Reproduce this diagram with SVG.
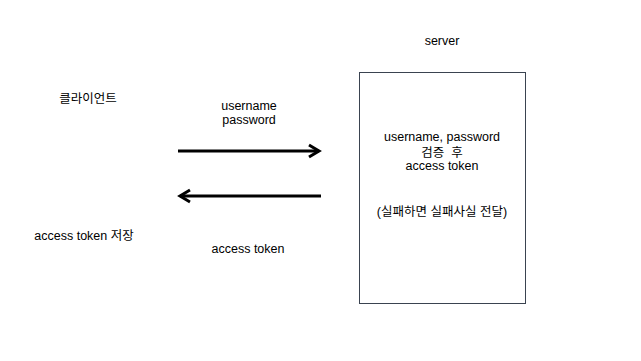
<svg xmlns="http://www.w3.org/2000/svg" width="641" height="361" viewBox="0 0 641 361">
<style>
text{font-family:"Liberation Sans","Noto Sans CJK KR",sans-serif;font-size:12.5px;fill:#000;text-anchor:middle;white-space:pre}
.arr{stroke:#000;stroke-width:3;fill:none;stroke-linecap:butt}
.head{stroke:#000;stroke-width:3;fill:none;stroke-linejoin:miter}
</style>
<rect width="641" height="361" fill="#fff"/>
<g id="client"><text x="88" y="103">클라이언트</text><text x="84" y="240">access token 저장</text></g>
<g id="server"><text x="442" y="45">server</text>
<rect x="359.5" y="72.5" width="166" height="231" fill="#fff" stroke="#3a4350" stroke-width="1"/>
<text x="442" y="141">username, password</text>
<text x="442" y="157" xml:space="preserve">검증  후</text>
<text x="442" y="170">access token</text>
<text x="442" y="216">(실패하면 실패사실 전달)</text></g>
<g id="connectors">
<line class="arr" x1="178" y1="151" x2="319" y2="151"/>
<polyline class="head" points="309,145 319,151 309,157"/>
<line class="arr" x1="180" y1="196" x2="321" y2="196"/>
<polyline class="head" points="190,190 180,196 190,202"/>
<text x="249" y="110">username</text><text x="249" y="124">password</text>
<text x="248" y="253">access token</text>
</g>
</svg>
